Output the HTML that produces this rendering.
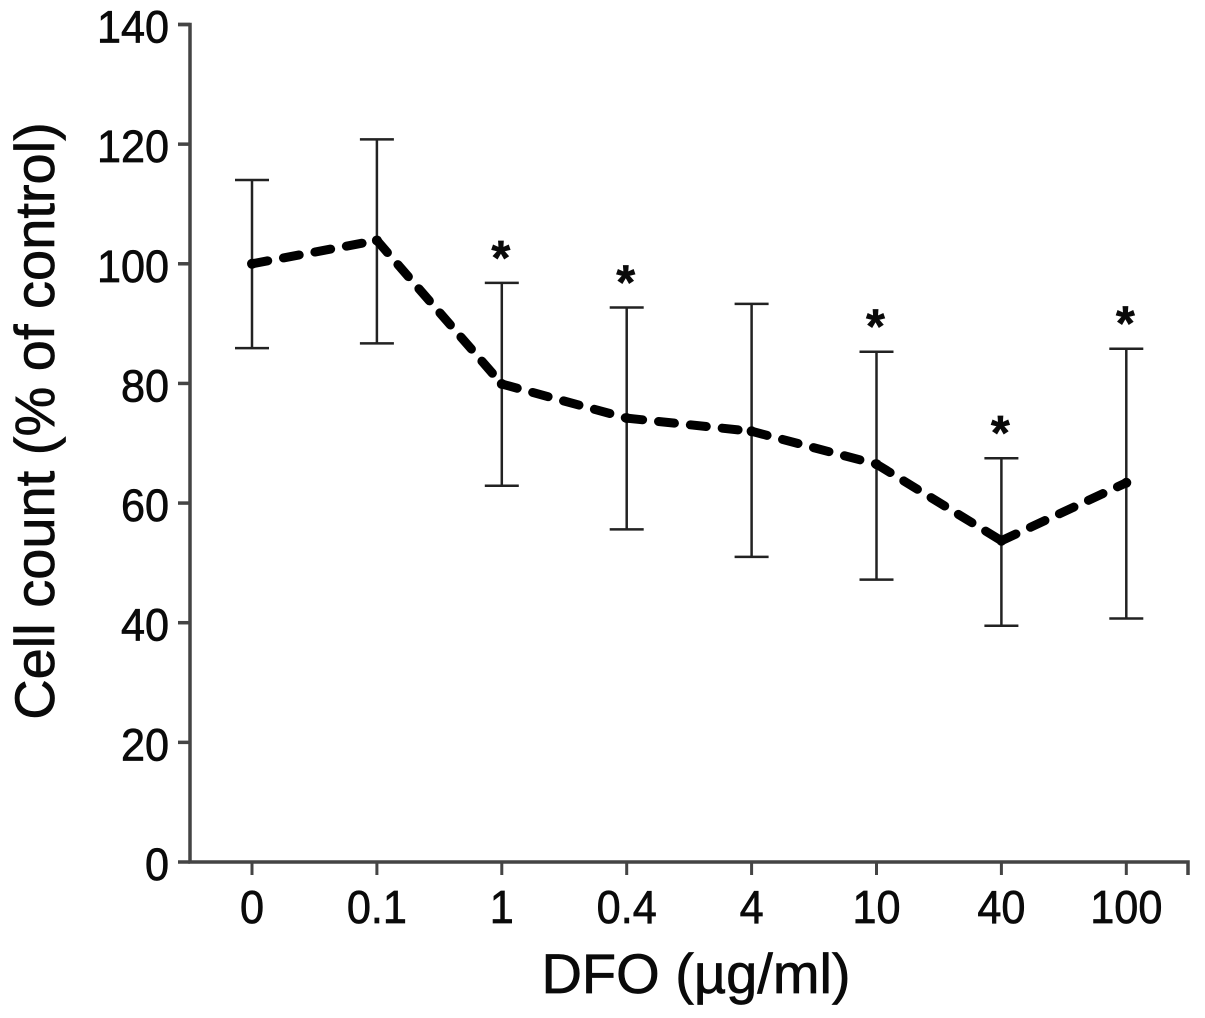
<!DOCTYPE html>
<html>
<head>
<meta charset="utf-8">
<style>
html,body{margin:0;padding:0;background:#fff;width:1205px;height:1018px;overflow:hidden}
svg{display:block}
text{font-family:"Liberation Sans",sans-serif;fill:#0a0a0a;stroke:#0a0a0a;stroke-width:.7px}
</style>
</head>
<body>
<svg id="chart" xmlns="http://www.w3.org/2000/svg" width="1205" height="1018" viewBox="0 0 1205 1018">
<text transform="translate(54 421) rotate(-90)" text-anchor="middle" font-size="56">Cell count (% of control)</text>
<text x="696" y="993" text-anchor="middle" font-size="56">DFO (µg/ml)</text>
</svg>
<script>
const categories = ['0', '0.1', '1', '0.4', '4', '10', '40', '100'];
const means = [100, 103.9, 79.9, 74.2, 72, 66.5, 53.7, 63.4];
const upper = [114, 120.8, 96.8, 92.7, 93.3, 85.3, 67.5, 85.8];
const lower = [85.9, 86.7, 62.9, 55.6, 51, 47.2, 39.5, 40.7];
const significant = [false, false, true, true, false, true, true, true];
const yTicks = [0, 20, 40, 60, 80, 100, 120, 140];

const svg = document.getElementById('chart');
const NS = 'http://www.w3.org/2000/svg';
const yScale = v => 862 - v * (862 - 24.5) / 140;
const xScale = i => 252 + i * 124.9;
const axisColor = '#444';
const barColor = '#222';

function mk(tag, attrs) {
  const el = document.createElementNS(NS, tag);
  for (const k in attrs) el.setAttribute(k, attrs[k]);
  svg.appendChild(el);
  return el;
}

let el = mk('path', {d: 'M178 ' + yScale(140) + 'H190V' + yScale(0) + 'H1188V875', fill: 'none', stroke: axisColor, 'stroke-width': 3.5});



yTicks.forEach(t => {
  const tick = mk('line', {x1: 178, x2: 190, y1: yScale(t), y2: yScale(t), stroke: axisColor, 'stroke-width': 3.5});
  
  
  const label = mk('text', {transform: 'translate(169 ' + (yScale(t) + 18) + ') scale(.96 1)', 'text-anchor': 'end', 'font-size': 45});
  label.textContent = String(t);
  
  
});

categories.forEach((c, i) => {
  const tick = mk('line', {x1: xScale(i), x2: xScale(i), y1: yScale(0), y2: 875, stroke: axisColor, 'stroke-width': 3});
  
  
  const label = mk('text', {transform: 'translate(' + xScale(i) + ' 923) scale(.94 1)', 'text-anchor': 'middle', 'font-size': 46});
  label.textContent = c;
  
  
});

categories.forEach((c, i) => {
  const x = xScale(i);
  const bar = mk('path', {
    d: 'M' + (x - 17) + ' ' + yScale(upper[i]) + 'H' + (x + 17) + 'M' + x + ' ' + yScale(upper[i]) + 'V' + yScale(lower[i]) + 'M' + (x - 17) + ' ' + yScale(lower[i]) + 'H' + (x + 17),
    fill: 'none', stroke: barColor, 'stroke-width': 2.5
  });
  
  
  if (significant[i]) {
    const star = mk('text', {x: x - 1, y: yScale(upper[i]) - 9, 'text-anchor': 'middle', 'font-size': 48, 'font-weight': 'bold'});
    star.textContent = '*';
    
    
  }
});

for (let i = 0; i < means.length - 1; i++) {
  const seg = mk('line', {
    x1: xScale(i), y1: yScale(means[i]), x2: xScale(i + 1), y2: yScale(means[i + 1]),
    stroke: '#000', 'stroke-width': 9, 'stroke-linecap': 'round', 'stroke-dasharray': '16 16'
  });
  
  
}
categories.forEach((c, i) => {
  const point = mk('circle', {cx: xScale(i), cy: yScale(means[i]), r: 5, fill: '#000'});
  
  
});
</script>
</body>
</html>
